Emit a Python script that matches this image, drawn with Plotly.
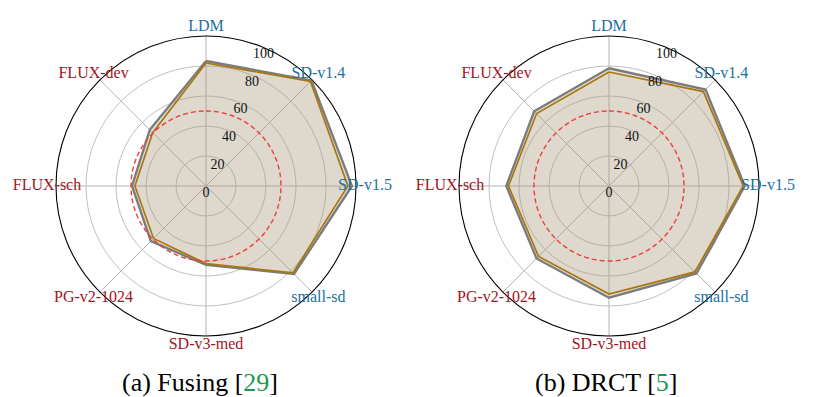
import numpy as np
import plotly.graph_objects as go

categories = ["LDM", "SD-v1.4", "SD-v1.5", "small-sd", "SD-v3-med", "PG-v2-1024", "FLUX-sch", "FLUX-dev"]
label_colors = ["#1a6fa3", "#1a6fa3", "#1a6fa3", "#1a6fa3", "#a3141c", "#a3141c", "#a3141c", "#a3141c"]

# (a) Fusing
fusing_gray = [83.3, 99.5, 97.3, 83.0, 52.6, 52.0, 49.3, 53.0]
fusing_gold = [82.0, 98.5, 94.6, 82.0, 51.7, 49.5, 47.4, 50.3]
# (b) DRCT
drct_gray = [78.5, 91.0, 90.5, 82.5, 74.5, 68.3, 68.5, 70.5]
drct_gold = [76.0, 89.0, 89.5, 81.0, 72.0, 66.4, 67.0, 68.3]

threshold = 50
radial_ticks = [0, 20, 40, 60, 80, 100]
radial_label_angle = 22.5
category_label_r = 106
captions = ["(a) Fusing [<span style='color:#1a9a50'>29</span>]",
            "(b) DRCT [<span style='color:#1a9a50'>5</span>]"]

FONT = "Liberation Serif"
RMAX = 100          # main radial range
RMAX_BIG = 118      # range of the enlarged overlay that hosts the labels

fig = go.Figure()

def close(v):
    return list(v) + [v[0]]

panels = [(fusing_gray, fusing_gold, "polar", "polar3", "polar5"),
          (drct_gray, drct_gold, "polar2", "polar4", "polar6")]
for gray, gold, sp, sp_lin, sp_cat in panels:
    fig.add_trace(go.Scatterpolar(
        r=close(gray), theta=close(categories), subplot=sp, mode="lines",
        line=dict(color="#7c7c7c", width=2.4), fill="toself",
        fillcolor="rgba(160,160,160,0.30)", showlegend=False, hoverinfo="skip"))
    fig.add_trace(go.Scatterpolar(
        r=close(gold), theta=close(categories), subplot=sp, mode="lines",
        line=dict(color="#a8760c", width=1.7), fill="toself",
        fillcolor="rgba(184,134,11,0.10)", showlegend=False, hoverinfo="skip"))
    # threshold circle
    circ_theta = np.linspace(0, 360, 361)
    fig.add_trace(go.Scatterpolar(
        r=[threshold] * len(circ_theta), theta=circ_theta, subplot=sp_lin, mode="lines",
        line=dict(color="#f03c3c", width=1.4, dash="5px,3px"), showlegend=False,
        hoverinfo="skip"))
    # radial tick labels
    fig.add_trace(go.Scatterpolar(
        r=radial_ticks, theta=[radial_label_angle] * len(radial_ticks), subplot=sp_lin,
        mode="text", text=[str(t) for t in radial_ticks], textposition="bottom center",
        textfont=dict(family=FONT, size=14, color="#111111"),
        showlegend=False, hoverinfo="skip"))
    # category labels
    fig.add_trace(go.Scatterpolar(
        r=[category_label_r] * len(categories), theta=categories, subplot=sp_cat,
        mode="text", text=categories, textposition="middle center",
        textfont=dict(family=FONT, size=16, color=label_colors),
        showlegend=False, hoverinfo="skip"))

def polar_layout(xdom, ydom):
    return dict(
        domain=dict(x=xdom, y=ydom),
        bgcolor="rgba(0,0,0,0)",
        radialaxis=dict(range=[0, RMAX], tickvals=radial_ticks, showticklabels=False,
                        showline=False, ticks="",
                        gridcolor="#c0c0c0", gridwidth=0.9,
                        layer="below traces"),
        angularaxis=dict(type="category", categoryarray=categories,
                         direction="clockwise", rotation=90,
                         showticklabels=False,
                         showline=True, linecolor="#000000", linewidth=1.1,
                         gridcolor="#b4b4b4", gridwidth=0.9, ticks="",
                         layer="below traces"),
    )

def overlay_lin(xdom, ydom):
    return dict(
        domain=dict(x=xdom, y=ydom),
        bgcolor="rgba(0,0,0,0)",
        radialaxis=dict(range=[0, RMAX_BIG], visible=False),
        angularaxis=dict(visible=False, direction="clockwise", rotation=90),
    )

def overlay_cat(xdom, ydom):
    return dict(
        domain=dict(x=xdom, y=ydom),
        bgcolor="rgba(0,0,0,0)",
        radialaxis=dict(range=[0, RMAX_BIG], visible=False),
        angularaxis=dict(type="category", categoryarray=categories, visible=False,
                         direction="clockwise", rotation=90),
    )

# page has an 8px body margin; figure sized to fit the window
W, H = 807, 389
R = 150
RB = R * RMAX_BIG / RMAX
lc, rc, cy = 198, 601, 178

def dom(cx, rad):
    return [(cx - rad) / W, (cx + rad) / W], [(H - cy - rad) / H, (H - cy + rad) / H]

lx, ly = dom(lc, R)
rx, ry = dom(rc, R)
lxb, lyb = dom(lc, RB)
rxb, ryb = dom(rc, RB)

fig.update_layout(
    width=W, height=H,
    margin=dict(l=0, r=0, t=0, b=0),
    paper_bgcolor="white",
    polar=polar_layout(lx, ly),
    polar2=polar_layout(rx, ry),
    polar3=overlay_lin(lxb, lyb),
    polar4=overlay_lin(rxb, ryb),
    polar5=overlay_cat(lxb, lyb),
    polar6=overlay_cat(rxb, ryb),
    showlegend=False,
)

cap_x = [192, 598]
for cx, cap in zip(cap_x, captions):
    fig.add_annotation(text=cap, x=cx / W, y=(H - 374) / H,
                       xref="paper", yref="paper", showarrow=False,
                       font=dict(family=FONT, size=26, color="#000000"),
                       xanchor="center", yanchor="middle")

fig.write_html("out.html")
